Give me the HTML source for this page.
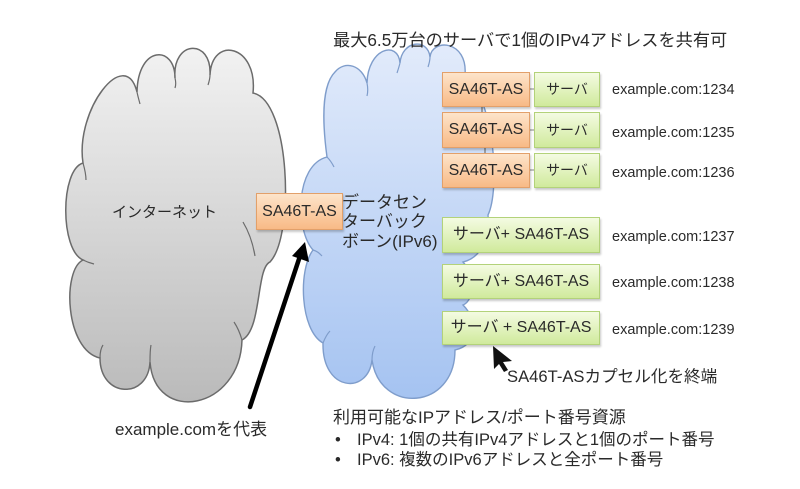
<!DOCTYPE html>
<html><head><meta charset="utf-8">
<style>
html,body{margin:0;padding:0;background:#fff;}
body{width:800px;height:489px;position:relative;overflow:hidden;font-family:"Liberation Sans","Noto Sans CJK JP",sans-serif;color:#2a2a2a;}
.t{position:absolute;white-space:nowrap;line-height:20px;height:20px;}
.box{position:absolute;box-sizing:border-box;text-align:center;font-size:16px;color:#2a2a2a;box-shadow:1px 2px 2px rgba(0,0,0,0.22);}
.or{background:linear-gradient(#fde4ca,#f8ba86);border:1px solid #e2a06a;}
.gr{background:linear-gradient(#f4fbe2,#d0ea9c);border:1px solid #b3d27a;}
svg{position:absolute;left:0;top:0;}
</style></head><body>
<svg width="800" height="489" viewBox="0 0 800 489">
<defs>
<linearGradient id="gg" x1="0" y1="0" x2="0" y2="1">
<stop offset="0" stop-color="#f2f2f2"/><stop offset="1" stop-color="#bababa"/>
</linearGradient>
<linearGradient id="bg" x1="0" y1="0" x2="0" y2="1">
<stop offset="0" stop-color="#e2ebfb"/><stop offset="1" stop-color="#a5c3f1"/>
</linearGradient>
</defs>
<!-- gray cloud -->
<path d="M83,163 C75,110 125,45 137,92 C138,45 175,45 175,78 C172,40 212,38 210,75 C212,35 258,45 253,93 C290,100 295,235 270,262 C256,268 262,330 242,340 C240,410 155,425 150,362 C148,400 100,398 100,358 C65,350 62,270 83,260 C60,250 60,170 83,163 Z" fill="url(#gg)" stroke="#6b6b6b" stroke-width="1.5"/>
<path d="M83,163 C85,170 86,175 86,180 M137,92 C138,97 139,100 140,104 M175,78 C176,82 176,85 175,88 M210,75 C210,79 209,82 208,85 M243,222 C249,232 253,244 255,256 M242,340 C240,333 238,328 234,322 M150,362 C150,355 150,350 151,345 M100,358 C100,352 101,348 103,345 M83,260 C87,262 90,263 94,264" fill="none" stroke="#6b6b6b" stroke-width="1.2"/>
<!-- blue cloud -->
<path d="M327,157 C322,120 322,85 335,72 C345,60 362,65 367,83 C368,48 398,40 400,63 C402,40 428,38 430,57 C432,38 468,40 465,75 C495,100 500,190 488,215 C490,240 480,258 463,262 C475,275 475,300 463,305 C478,320 478,345 455,350 C455,410 380,415 372,360 C368,395 322,392 323,343 C300,330 298,270 313,250 C295,230 295,165 327,157 Z" fill="url(#bg)" stroke="#7f9dcb" stroke-width="1.4"/>
<path d="M327,157 C330,160 332,163 334,167 M367,83 C368,88 368,92 367,96 M400,63 C399,67 398,70 397,73 M430,57 C430,61 429,64 428,67 M313,250 C317,251 319,253 322,256 M323,343 C325,338 327,334 330,331 M372,360 C372,354 373,350 375,346" fill="none" stroke="#7f9dcb" stroke-width="1.2"/>
<!-- connectors -->
<line x1="530" y1="89" x2="534" y2="89" stroke="#999" stroke-width="1.2"/>
<line x1="530" y1="130" x2="534" y2="130" stroke="#999" stroke-width="1.2"/>
<line x1="530" y1="170" x2="534" y2="170" stroke="#999" stroke-width="1.2"/>
<line x1="482" y1="107" x2="482" y2="112" stroke="#888" stroke-width="1.5"/>
<line x1="485" y1="148" x2="485" y2="153" stroke="#888" stroke-width="1.5"/>
<!-- big arrow -->
<line x1="250" y1="407" x2="300" y2="256" stroke="#000" stroke-width="4.5" stroke-linecap="round"/>
<polygon points="305,242 309,262 292,256" fill="#000"/>
<!-- cursor -->
<polygon points="493,346 512,361 503,362 508,370 504,372 499,364 494,369" fill="#111"/>
</svg>

<div class="t" style="left:333px;top:30px;font-size:17.2px;">最大6.5万台のサーバで1個のIPv4アドレスを共有可</div>
<div class="t" style="left:112px;top:203px;font-size:15px;">インターネット</div>

<div class="box or" style="left:256px;top:193px;width:87px;height:37px;line-height:35px;">SA46T-AS</div>

<div class="t" style="left:342px;top:193px;font-size:17px;">データセン</div>
<div class="t" style="left:342px;top:212px;font-size:17px;">ターバック</div>
<div class="t" style="left:342px;top:232px;font-size:17px;">ボーン(IPv6)</div>

<div class="box or" style="left:442px;top:72px;width:88px;height:35px;line-height:33px;">SA46T-AS</div>
<div class="box gr" style="left:534px;top:72px;width:66px;height:35px;line-height:33px;font-size:14px;">サーバ</div>
<div class="box or" style="left:442px;top:112px;width:88px;height:36px;line-height:34px;">SA46T-AS</div>
<div class="box gr" style="left:534px;top:112px;width:66px;height:36px;line-height:34px;font-size:14px;">サーバ</div>
<div class="box or" style="left:442px;top:153px;width:88px;height:35px;line-height:33px;">SA46T-AS</div>
<div class="box gr" style="left:534px;top:153px;width:66px;height:35px;line-height:33px;font-size:14px;">サーバ</div>

<div class="box gr" style="left:442px;top:217px;width:158px;height:36px;line-height:34px;">サーバ+ SA46T-AS</div>
<div class="box gr" style="left:442px;top:264px;width:158px;height:35px;line-height:33px;">サーバ+ SA46T-AS</div>
<div class="box gr" style="left:442px;top:311px;width:158px;height:34px;line-height:32px;">サーバ + SA46T-AS</div>

<div class="t" style="left:612px;top:80px;font-size:14.5px;">example.com:1234</div>
<div class="t" style="left:612px;top:123px;font-size:14.5px;">example.com:1235</div>
<div class="t" style="left:612px;top:163px;font-size:14.5px;">example.com:1236</div>
<div class="t" style="left:612px;top:227px;font-size:14.5px;">example.com:1237</div>
<div class="t" style="left:612px;top:273px;font-size:14.5px;">example.com:1238</div>
<div class="t" style="left:612px;top:320px;font-size:14.5px;">example.com:1239</div>

<div class="t" style="left:507px;top:367px;font-size:16.6px;">SA46T-ASカプセル化を終端</div>
<div class="t" style="left:115px;top:420px;font-size:17px;">example.comを代表</div>

<div class="t" style="left:333px;top:408px;font-size:17px;">利用可能なIPアドレス/ポート番号資源</div>
<div class="t" style="left:335px;top:430px;font-size:16.5px;">•</div>
<div class="t" style="left:357px;top:430px;font-size:16.5px;">IPv4: 1個の共有IPv4アドレスと1個のポート番号</div>
<div class="t" style="left:335px;top:450px;font-size:16.5px;">•</div>
<div class="t" style="left:357px;top:450px;font-size:16.5px;">IPv6: 複数のIPv6アドレスと全ポート番号</div>
</body></html>
